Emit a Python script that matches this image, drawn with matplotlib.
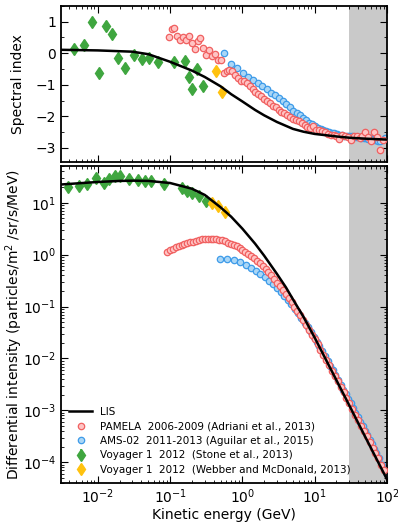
import numpy as np
import matplotlib
matplotlib.use("Agg")
import matplotlib.pyplot as plt
from matplotlib.ticker import LogLocator, MultipleLocator, NullFormatter

# ---------------- data ----------------
# LIS model (kinetic energy in GeV)
lis_energy = [0.003, 0.01, 0.02, 0.0316, 0.05, 0.1, 0.2, 0.302, 0.5, 0.7, 1.0, 1.5, 2.0, 3.0, 4.0,
              5.0, 7.0, 10.0, 20.0, 30.0, 50.0, 100.0]
lis_log_flux = [1.35, 1.40, 1.42, 1.425, 1.42, 1.38, 1.27, 1.15, 0.91, 0.73, 0.50, 0.21, -0.02,
                -0.37, -0.63, -0.86, -1.20, -1.60, -2.42, -2.90, -3.51, -4.33]
lis_index_energy = [0.003, 0.01, 0.03, 0.05, 0.1, 0.2, 0.3, 0.5, 0.7, 1.0, 1.5, 2.0, 3.0, 5.0,
                    7.0, 10.0, 20.0, 30.0, 50.0, 100.0]
lis_index = [0.11, 0.09, 0.05, -0.03, -0.27, -0.55, -0.75, -1.05, -1.30, -1.53, -1.80, -1.97,
             -2.18, -2.40, -2.49, -2.56, -2.64, -2.68, -2.71, -2.74]

# PAMELA 2006-2009
pamela_energy = [0.0912, 0.100, 0.110, 0.120, 0.132, 0.145, 0.158, 0.174, 0.191, 0.209, 0.229,
                 0.251, 0.275, 0.302, 0.331, 0.363, 0.398, 0.437, 0.479, 0.525, 0.575, 0.631,
                 0.692, 0.759, 0.832, 0.912, 1.00, 1.10, 1.20, 1.32, 1.45, 1.58, 1.74, 1.91, 2.09,
                 2.29, 2.51, 2.75, 3.02, 3.31, 3.63, 3.98, 4.37, 4.79, 5.25, 5.75, 6.31, 6.92,
                 7.59, 8.32, 9.12, 10.0, 11.0, 12.0, 13.2, 14.5, 15.8, 17.4, 19.1, 20.9, 22.9,
                 25.1, 27.5, 30.2, 33.1, 36.3, 39.8, 43.7, 47.9, 52.5, 57.5, 63.1, 69.2, 75.9,
                 83.2, 91.2]
pamela_log_flux = [0.060, 0.080, 0.111, 0.142, 0.165, 0.181, 0.201, 0.218, 0.240, 0.253, 0.258,
                   0.274, 0.293, 0.300, 0.297, 0.302, 0.299, 0.298, 0.289, 0.280, 0.254, 0.232,
                   0.212, 0.189, 0.161, 0.129, 0.094, 0.060, 0.022, -0.019, -0.064, -0.113,
                   -0.165, -0.219, -0.277, -0.338, -0.401, -0.468, -0.537, -0.609, -0.684,
                   -0.760, -0.838, -0.918, -1.001, -1.086, -1.172, -1.261, -1.353, -1.446,
                   -1.541, -1.633, -1.730, -1.828, -1.927, -2.028, -2.130, -2.233, -2.337,
                   -2.443, -2.551, -2.655, -2.761, -2.867, -2.977, -3.083, -3.188, -3.296,
                   -3.401, -3.501, -3.607, -3.718, -3.818, -3.925, -4.047, -4.157]
pamela_index_energy = [0.0955, 0.105, 0.115, 0.126, 0.138, 0.151, 0.166, 0.182, 0.200, 0.219,
                       0.240, 0.263, 0.288, 0.316, 0.347, 0.380, 0.417, 0.457, 0.501, 0.550,
                       0.603, 0.661, 0.724, 0.794, 0.871, 0.955, 1.05, 1.15, 1.26, 1.38, 1.51,
                       1.66, 1.82, 2.00, 2.19, 2.40, 2.63, 2.88, 3.16, 3.47, 3.80, 4.17, 4.57,
                       5.01, 5.50, 6.03, 6.61, 7.24, 7.94, 8.71, 9.55, 10.5, 11.5, 12.6, 13.8,
                       15.1, 16.6, 18.2, 20.0, 21.9, 24.0, 26.3, 28.8, 31.6, 34.7, 38.0, 41.7,
                       45.7, 50.1, 55.0, 60.3, 66.1, 72.4, 79.4, 87.1]
pamela_index = [0.50, 0.77, 0.79, 0.56, 0.41, 0.50, 0.42, 0.56, 0.31, 0.13, 0.40, 0.47, 0.18,
                -0.07, 0.11, -0.08, -0.02, -0.23, -0.23, -0.63, -0.55, -0.52, -0.56, -0.70,
                -0.80, -0.87, -0.87, -0.93, -1.03, -1.14, -1.22, -1.29, -1.36, -1.45, -1.51,
                -1.58, -1.68, -1.72, -1.80, -1.87, -1.90, -1.95, -2.01, -2.08, -2.12, -2.16,
                -2.22, -2.29, -2.33, -2.37, -2.30, -2.43, -2.45, -2.48, -2.51, -2.56, -2.58,
                -2.60, -2.64, -2.71, -2.60, -2.64, -2.66, -2.75, -2.64, -2.64, -2.69, -2.62,
                -2.50, -2.66, -2.78, -2.50, -2.67, -3.06, -2.75]

# AMS-02 2011-2013
ams_energy = [0.4925, 0.621, 0.764, 0.925, 1.105, 1.303, 1.523, 1.765, 2.034, 2.330, 2.652,
              3.005, 3.390, 3.811, 4.272, 4.775, 5.318, 5.907, 6.546, 7.236, 7.982, 8.787,
              9.654, 10.60, 11.60, 12.64, 13.79, 15.04, 16.39, 17.84, 19.38, 21.03, 22.83,
              24.78, 26.83, 29.03, 31.38, 33.87, 36.57, 39.47, 42.57, 45.87, 49.42, 53.22,
              57.27, 61.62, 66.32, 71.37, 76.77, 85.82, 99.57]
ams_log_flux = [-0.080, -0.080, -0.110, -0.150, -0.198, -0.251, -0.308, -0.369, -0.433, -0.500,
                -0.571, -0.644, -0.719, -0.796, -0.876, -0.959, -1.045, -1.131, -1.219,
                -1.308, -1.399, -1.491, -1.583, -1.677, -1.769, -1.859, -1.952, -2.045,
                -2.139, -2.231, -2.323, -2.413, -2.505, -2.598, -2.688, -2.778, -2.867,
                -2.954, -3.043, -3.131, -3.219, -3.305, -3.393, -3.479, -3.566, -3.651,
                -3.738, -3.825, -3.914, -4.049, -4.225]
ams_index_energy = [0.553, 0.689, 0.841, 1.011, 1.200, 1.409, 1.640, 1.895, 2.177, 2.486, 2.823,
                    3.192, 3.594, 4.035, 4.516, 5.039, 5.605, 6.218, 6.882, 7.600, 8.375,
                    9.210, 10.12, 11.09, 12.11, 13.20, 14.40, 15.70, 17.10, 18.59, 20.19, 21.91,
                    23.79, 25.78, 27.91, 30.18, 32.60, 35.19, 37.99, 40.99, 44.19, 47.61,
                    51.29, 55.21, 59.41, 63.93, 68.80, 74.02, 81.17, 92.44]
ams_index = [0.00, -0.33, -0.48, -0.62, -0.74, -0.85, -0.95, -1.04, -1.14, -1.26, -1.34, -1.43,
             -1.52, -1.62, -1.72, -1.82, -1.90, -1.97, -2.05, -2.13, -2.20, -2.26, -2.31, -2.36,
             -2.41, -2.45, -2.48, -2.50, -2.52, -2.54, -2.56, -2.58, -2.60, -2.61, -2.62,
             -2.63, -2.64, -2.66, -2.67, -2.66, -2.68, -2.70, -2.69, -2.71, -2.68, -2.72,
             -2.75, -2.80, -2.78, -2.68]

# Voyager 1 2012 (Stone et al., 2013)
stone_energy = [0.00388, 0.00551, 0.00719, 0.00938, 0.0120, 0.0143, 0.0173, 0.0206, 0.0271,
                0.0358, 0.0452, 0.0542, 0.0812, 0.147, 0.172, 0.202, 0.248, 0.313]
stone_flux = [19.7, 21.0, 22.5, 30.0, 24.3, 29.0, 32.7, 32.2, 28.6, 27.8, 26.6, 25.8, 22.5, 18.9,
              17.1, 15.6, 13.6, 10.8]
stone_flux_err = [2.5, 2.6, 2.6, 3.5, 2.6, 3.2, 3.6, 3.4, 2.9, 2.7, 2.5, 2.3, 2.0, 1.6, 1.4,
                  1.3, 1.1, 0.9]
stone_index_energy = [0.00470, 0.00640, 0.00826, 0.01055, 0.01319, 0.01578, 0.01891, 0.02364,
                      0.03119, 0.04064, 0.05030, 0.06766, 0.1138, 0.1585, 0.1800, 0.2000,
                      0.2323, 0.2840]
stone_index = [0.13, 0.26, 0.99, -0.62, 0.85, 0.62, -0.15, -0.47, -0.05, -0.17, -0.15, -0.29,
               -0.28, -0.26, -0.75, -1.12, -0.50, -1.05]

# Voyager 1 2012 (Webber and McDonald, 2013)
webber_energy = [0.382, 0.462, 0.578]
webber_flux = [9.87, 8.63, 6.60]
webber_flux_err = [0.8, 0.7, 0.55]
webber_index_energy = [0.426, 0.525]
webber_index = [-0.55, -1.22]

shade_range = (30.0, 100.0)

# ---------------- style ----------------
plt.rcParams.update({
    "font.family": ["DejaVu Sans"],
    "font.size": 10,
    "xtick.direction": "in",
    "ytick.direction": "in",
    "xtick.top": True,
    "ytick.right": True,
    "xtick.major.size": 5,
    "ytick.major.size": 5,
    "xtick.minor.size": 2.5,
    "ytick.minor.size": 2.5,
    "axes.linewidth": 1.3,
})

red_face, red_edge = "#ffc4c4", "#f06060"
blue_face, blue_edge = "#aad6f6", "#3d9be9"
green = "#3fa63f"
gold = "#ffc20e"

fig = plt.figure(figsize=(3.98, 5.29), dpi=100)
ax1 = fig.add_axes([0.1533, 0.6938, 0.8191, 0.2949])
ax2 = fig.add_axes([0.1533, 0.0870, 0.8191, 0.5992], sharex=ax1)

circ = dict(marker="o", linestyle="none", markersize=4.6, markeredgewidth=0.9)

for ax in (ax1, ax2):
    ax.axvspan(*shade_range, color="#c9c9c9", zorder=0, lw=0)
    ax.set_xscale("log")

# Spectral index panel
ax1.plot(pamela_index_energy, pamela_index, mfc=red_face, mec=red_edge, zorder=3, **circ)
ax1.plot(ams_index_energy, ams_index, mfc=blue_face, mec=blue_edge, zorder=2, **circ)
ax1.plot(stone_index_energy, stone_index, marker="d", linestyle="none", color=green,
         markersize=6, zorder=3)
ax1.plot(webber_index_energy, webber_index, marker="d", linestyle="none", color=gold,
         markersize=6, zorder=3)
ax1.plot(lis_index_energy, lis_index, color="black", lw=1.8, zorder=4)
ax1.set_ylim(-3.45, 1.5)
ax1.yaxis.set_major_locator(MultipleLocator(1))
ax1.yaxis.set_minor_locator(MultipleLocator(0.5))
ax1.set_ylabel("Spectral index")
ax1.yaxis.set_label_coords(-0.112, 0.5)
ax1.tick_params(labelbottom=False)

# Differential intensity panel
ax2.plot(lis_energy, [10 ** v for v in lis_log_flux], color="black", lw=1.8, zorder=5,
         label="LIS")
ax2.plot(pamela_energy, [10 ** v for v in pamela_log_flux], mfc=red_face, mec=red_edge,
         zorder=3, label="PAMELA  2006-2009 (Adriani et al., 2013)", **circ)
ax2.plot(ams_energy, [10 ** v for v in ams_log_flux], mfc=blue_face, mec=blue_edge,
         zorder=2, label="AMS-02  2011-2013 (Aguilar et al., 2015)", **circ)
ax2.errorbar(stone_energy, stone_flux, yerr=stone_flux_err, fmt="d", color=green,
             markersize=6, elinewidth=1.2, capsize=0, zorder=4,
             label="Voyager 1  2012  (Stone et al., 2013)")
ax2.errorbar(webber_energy, webber_flux, yerr=webber_flux_err, fmt="d", color=gold,
             markersize=6, elinewidth=1.2, capsize=0, zorder=4,
             label="Voyager 1  2012  (Webber and McDonald, 2013)")
ax2.set_yscale("log")
ax2.set_ylim(4e-5, 51)
ax2.set_xlim(3.1e-3, 100)
ax2.yaxis.set_major_locator(LogLocator(base=10, numticks=12))
ax2.yaxis.set_minor_locator(LogLocator(base=10, subs=np.arange(2, 10), numticks=12))
ax2.yaxis.set_minor_formatter(NullFormatter())
ax2.xaxis.set_major_locator(LogLocator(base=10, numticks=12))
ax2.xaxis.set_minor_locator(LogLocator(base=10, subs=np.arange(2, 10), numticks=12))
ax2.xaxis.set_minor_formatter(NullFormatter())
ax2.set_xlabel("Kinetic energy (GeV)", labelpad=1)
ax2.set_ylabel("Differential intensity (particles/m$^2$ /sr/s/MeV)")
ax2.yaxis.set_label_coords(-0.112, 0.5)

ax2.legend(loc="lower left", frameon=False, fontsize=7.5, handlelength=2.2,
           labelspacing=0.42, borderaxespad=0.4, handletextpad=0.7)

fig.savefig("out.png", dpi=100)
